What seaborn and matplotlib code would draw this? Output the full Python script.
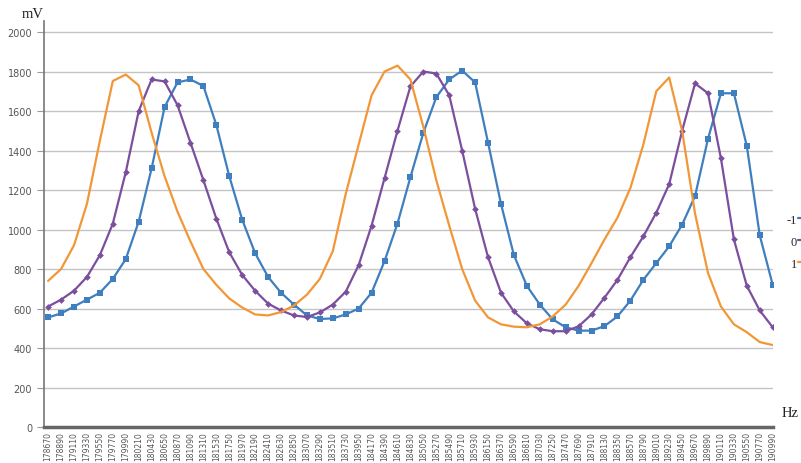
"""Recreate the three-phase mV vs Hz line chart."""
import matplotlib
matplotlib.use('Agg')
import matplotlib.pyplot as plt
import numpy as np
import pandas as pd
import seaborn as sns

# frequency ticks (Hz), one every 220
FREQ = list(range(178670, 190991, 220))

SERIES_MINUS1 = [555, 575, 610, 645, 680, 750, 850, 1040, 1310, 1620,
                 1745, 1760, 1727, 1530, 1270, 1050, 880, 760, 680, 620,
                 565, 547, 550, 570, 600, 680, 840, 1030, 1265, 1490,
                 1670, 1760, 1805, 1745, 1440, 1130, 870, 715, 620, 545,
                 505, 488, 488, 511, 560, 640, 745, 830, 915, 1025,
                 1170, 1460, 1690, 1690, 1423, 970, 720]

SERIES_0 = [610, 645, 690, 760, 870, 1030, 1290, 1600, 1760, 1750,
            1630, 1440, 1250, 1055, 885, 770, 690, 625, 590, 565,
            557, 580, 620, 685, 820, 1020, 1260, 1500, 1725, 1800,
            1790, 1680, 1400, 1105, 860, 680, 585, 525, 495, 485,
            485, 510, 570, 655, 745, 860, 965, 1085, 1230, 1500,
            1740, 1690, 1360, 950, 715, 590, 505]

SERIES_1 = [740, 800, 920, 1130, 1450, 1752, 1785, 1730, 1490, 1270,
            1090, 940, 800, 720, 651, 605, 570, 565, 582, 615,
            670, 750, 890, 1180, 1430, 1680, 1800, 1830, 1760, 1520,
            1250, 1020, 800, 640, 555, 520, 508, 505, 520, 560,
            620, 715, 830, 950, 1060, 1210, 1430, 1700, 1770, 1500,
            1080, 780, 610, 520, 480, 430, 415]

LABELS = ['-1', '0', '1']
COLORS = ['#3f7fbf', '#7b4f9d', '#f19737']
MARKERS = ['s', 'D', None]
MARKER_SIZES = [4.8, 3.4, 0]

sns.set_theme(style='white')
plt.rcParams['font.family'] = ['DejaVu Sans']

df = pd.DataFrame({
    'Hz': FREQ * 3,
    'mV': SERIES_MINUS1 + SERIES_0 + SERIES_1,
    'phase': np.repeat(LABELS, len(FREQ)),
})

fig = plt.figure(figsize=(8.01, 4.64), dpi=100)
ax = fig.add_axes([44 / 801, 1 - 428 / 464, (773 - 44) / 801, (428 - 22) / 464])

for label, color, marker, ms in zip(LABELS, COLORS, MARKERS, MARKER_SIZES):
    sub = df[df['phase'] == label]
    sns.lineplot(data=sub, x='Hz', y='mV', ax=ax, color=color, linewidth=1.6,
                 marker=marker, markersize=ms, markeredgewidth=0,
                 label=label, legend=False)

ax.set_xlim(178600, 190995)
ax.set_ylim(0, 2056)
ax.set_yticks(range(0, 2001, 200))
ax.set_xticks(FREQ)
ax.set_xticklabels([str(f) for f in FREQ], rotation=90, fontsize=5.5,
                   color='#555555')
ax.tick_params(axis='y', labelsize=7, colors='#555555', length=5,
               width=0.8, direction='out', left=True)
ax.tick_params(axis='y', color='#999999')
ax.tick_params(axis='x', length=0, pad=3)
ax.yaxis.grid(True, color='#c4c4c4', linewidth=1.0)
ax.xaxis.grid(False)
ax.set_axisbelow(True)

for side in ('top', 'right'):
    ax.spines[side].set_visible(False)
ax.spines['left'].set_color('#777777')
ax.spines['left'].set_linewidth(1.2)
ax.spines['bottom'].set_color('#666666')
ax.spines['bottom'].set_linewidth(2.5)

ax.set_xlabel('')
ax.set_ylabel('')
fig.text(22 / 801, 1 - 14 / 464, 'mV', family='Liberation Serif',
         fontsize=10.5, va='center', ha='left', color='#222222')
fig.text(782 / 801, 1 - 414 / 464, 'Hz', family='Liberation Serif',
         fontsize=10.5, va='center', ha='left', color='#222222')

handles, _ = ax.get_legend_handles_labels()
fig.legend(handles, LABELS, loc='upper left',
           bbox_to_anchor=(778 / 801, 1 - 206 / 464), frameon=False,
           markerfirst=False, handlelength=1.0, handletextpad=0.1,
           borderpad=0.2, labelspacing=0.8,
           prop={'family': 'Liberation Serif', 'size': 9})

fig.savefig('out.png', dpi=100, facecolor='white')
